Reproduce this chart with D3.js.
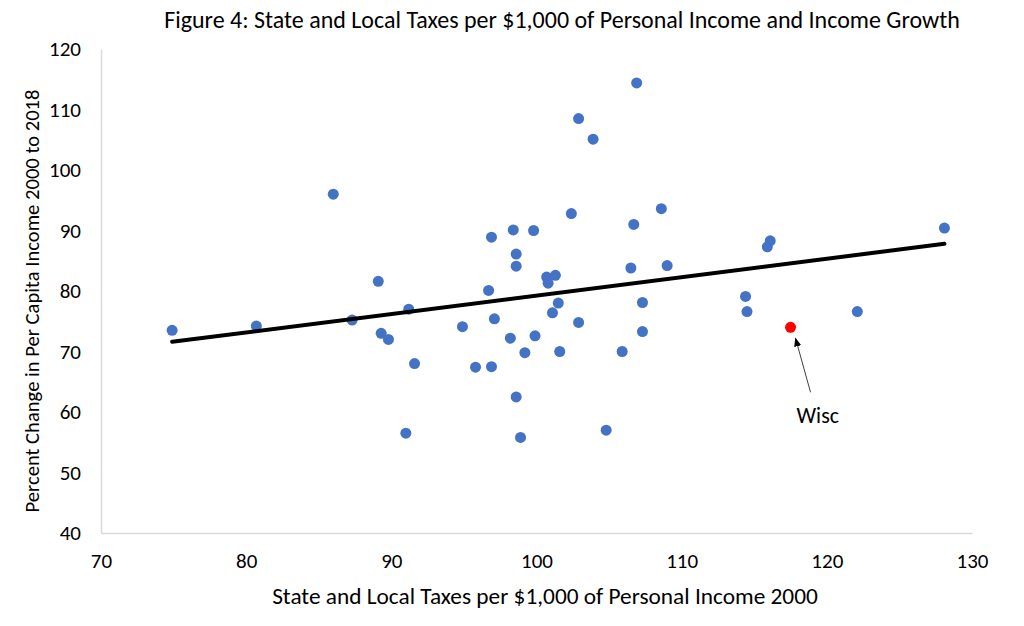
<!DOCTYPE html>
<meta charset="utf-8">
<style>
    body { margin: 0; background: #fff; }
    text { font-family: Carlito, Calibri, Lato, "Open Sans", sans-serif; fill: #000; }
    .dot { fill: #4472c4; }
    .wisc { fill: #ff0000; }
    .trend { fill: none; stroke: #000; stroke-width: 4px; stroke-linecap: round; }
</style>
<body>
<script src="https://d3js.org/d3.v7.min.js"></script>
<script>
    // taxes per $1,000 of personal income, 2000 (x) and income growth 2000-2018 (y)
    var taxes = [74.9, 80.7, 86.0, 87.3, 89.1, 89.3, 89.8, 91.2, 91.0, 91.6,
                 94.9, 95.8, 96.7, 96.9, 96.9, 97.1, 98.2, 98.4, 98.6, 98.6,
                 98.6, 98.9, 99.2, 99.8, 99.9, 100.7, 101.3, 100.8, 101.1, 101.5,
                 101.6, 102.4, 102.9, 102.9, 103.9, 104.8, 105.9, 106.5, 106.7, 106.9,
                 107.3, 107.3, 108.6, 109.0, 114.4, 114.5, 115.9, 116.1, 122.1, 128.1];
    var growth = [73.5, 74.2, 96.0, 75.2, 81.6, 73.0, 72.0, 77.0, 56.5, 68.0,
                  74.1, 67.4, 80.1, 88.9, 67.5, 75.4, 72.2, 90.1, 86.1, 84.1,
                  62.5, 55.8, 69.8, 90.0, 72.6, 82.3, 82.6, 81.3, 76.4, 78.0,
                  70.0, 92.8, 74.8, 108.5, 105.1, 57.0, 70.0, 83.8, 91.0, 114.4,
                  78.1, 73.3, 93.6, 84.2, 79.1, 76.6, 87.3, 88.3, 76.6, 90.4];
    var wiscTax = 117.5, wiscGrowth = 74.0;

    // fitted trend line end points
    var trendX = [74.9, 128.1];
    var trendY = [71.6, 87.8];

    var xTicks = [70, 80, 90, 100, 110, 120, 130];
    var yTicks = [40, 50, 60, 70, 80, 90, 100, 110, 120];

    var margin = {top: 49, left: 101},
        width = 871,
        height = 484;

    var svg = d3.select("body").append("svg")
        .attr("width", 1024)
        .attr("height", 626);

    var x = d3.scaleLinear().domain([70, 130]).range([0, width]);
    var y = d3.scaleLinear().domain([40, 120]).range([height, 0]);

    var g = svg.append("g")
        .attr("transform", "translate(" + margin.left + "," + margin.top + ")");

    // axes
    var xAxis = g.append("g")
        .attr("transform", "translate(0," + height + ")")
        .call(d3.axisBottom(x).tickValues(xTicks).tickSize(0).tickPadding(20));
    xAxis.select(".domain").attr("stroke", "#d9d9d9").attr("stroke-width", 1.5);
    xAxis.selectAll(".tick text").attr("font-size", 21).style("font-size", "21px");

    var yAxis = g.append("g")
        .call(d3.axisLeft(y).tickValues(yTicks).tickSize(0).tickPadding(20));
    yAxis.select(".domain").attr("stroke", "#d9d9d9").attr("stroke-width", 1.5);
    yAxis.selectAll(".tick text").attr("font-size", 21).style("font-size", "21px");

    // points
    var pts = taxes.map(function(t, i) { return {x: t, y: growth[i]}; });
    g.selectAll(".dot").data(pts).enter().append("circle")
        .attr("class", "dot")
        .attr("cx", function(d) { return x(d.x); })
        .attr("cy", function(d) { return y(d.y); })
        .attr("r", 5.5);

    // trend line
    g.append("path")
        .datum(trendX.map(function(t, i) { return [t, trendY[i]]; }))
        .attr("class", "trend")
        .attr("d", d3.line().x(function(d) { return x(d[0]); }).y(function(d) { return y(d[1]); }));

    // Wisconsin
    g.append("circle")
        .attr("class", "wisc")
        .attr("cx", x(wiscTax))
        .attr("cy", y(wiscGrowth))
        .attr("r", 5.5);

    svg.append("defs").append("marker")
        .attr("id", "arrow")
        .attr("viewBox", "0 0 10 10")
        .attr("refX", 9).attr("refY", 5)
        .attr("markerWidth", 9).attr("markerHeight", 9)
        .attr("orient", "auto")
        .append("path")
        .attr("d", "M0,1 L10,5 L0,9 Z")
        .attr("fill", "#000");

    g.append("line")
        .attr("x1", x(wiscTax) + 20).attr("y1", y(wiscGrowth) + 65)
        .attr("x2", x(wiscTax) + 5).attr("y2", y(wiscGrowth) + 11)
        .attr("stroke", "#404040")
        .attr("stroke-width", 1)
        .attr("marker-end", "url(#arrow)");

    g.append("text")
        .attr("x", x(wiscTax) + 6)
        .attr("y", y(wiscGrowth) + 96)
        .style("font-size", "22px")
        .text("Wisc");

    // fit text to a target width
    function fit(sel, w) {
        var cur = sel.node().getComputedTextLength();
        var fs = parseFloat(sel.style("font-size"));
        sel.style("font-size", (fs * w / cur) + "px");
    }

    var title = svg.append("text")
        .attr("x", 562).attr("y", 28)
        .attr("text-anchor", "middle")
        .style("font-size", "18px")
        .text("Figure 4: State and Local Taxes per $1,000 of Personal Income and Income Growth");
    fit(title, 796);

    var xTitle = svg.append("text")
        .attr("x", 545).attr("y", 604)
        .attr("text-anchor", "middle")
        .style("font-size", "17px")
        .text("State and Local Taxes per $1,000 of Personal Income 2000");
    fit(xTitle, 546);

    var yTitle = svg.append("text")
        .attr("transform", "translate(39,301) rotate(-90)")
        .attr("text-anchor", "middle")
        .style("font-size", "16px")
        .text("Percent Change in Per Capita Income 2000 to 2018");
    fit(yTitle, 423);
</script>
</body>
